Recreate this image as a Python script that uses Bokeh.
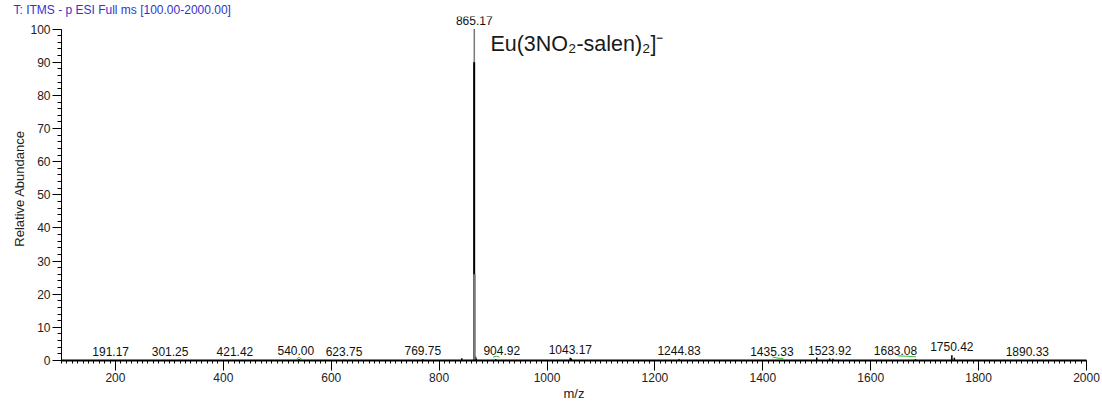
from bokeh.plotting import figure
from bokeh.models import Range1d, Label, SingleIntervalTicker, ColumnDataSource
from bokeh.core.properties import value
from bokeh.embed import file_html
from bokeh.resources import INLINE

# ---------------- data ----------------
title_text = "T: ITMS - p ESI Full ms [100.00-2000.00]"
compound_text = "Eu(3NO\u2082-salen)\u2082]\u207b"
x_label = "m/z"
y_label = "Relative Abundance"

# main isotope cluster (m/z, relative abundance)
main_mz = [864.95, 865.17, 865.40]
main_int = [90.0, 100.0, 26.0]
main_label = "865.17"

# labelled minor peaks
peak_mz = [191.17, 301.25, 421.42, 540.00, 623.75, 769.75, 904.92,
           1043.17, 1244.83, 1435.33, 1523.92, 1683.08, 1750.42, 1890.33]
peak_int = [0.15, 0.15, 0.15, 0.35, 0.25, 0.35, 0.35, 0.8, 0.35, 0.15, 0.6, 0.35, 1.6, 0.15]
peak_label = ["191.17", "301.25", "421.42", "540.00", "623.75", "769.75", "904.92",
              "1043.17", "1244.83", "1435.33", "1523.92", "1683.08", "1750.42", "1890.33"]
# label nudges (px) used by the instrument software to avoid overlaps
label_nudge = [0, 0, 0, -3, 0, 0, 6, 0, 0, -10, 0, -20, 0, 0]

# unlabelled small peaks / noise
noise_mz = [842.0, 867.5, 869.0, 1045.0, 1500.0, 1530.0, 1755.0]
noise_int = [0.7, 1.2, 0.6, 0.6, 0.9, 0.5, 0.8]

# green overlay trace (segments separated by NaN)
nan = float("nan")
green_mz = [536, 540, 545, nan, 900, 906, 912, nan, 1418, 1428, 1438, nan, 1650, 1665, 1684]
green_int = [0.5, 0.9, 0.5, nan, 1.0, 1.3, 1.0, nan, 1.0, 0.7, 0.6, nan, 1.4, 1.3, 1.1]

# ---------------- figure ----------------
font = "Liberation Sans"

p = figure(width=1102, height=403, output_backend="svg", toolbar_location=None,
           x_range=Range1d(100, 2000), y_range=Range1d(0, 103.8),
           min_border_left=61, min_border_right=16, min_border_top=0, min_border_bottom=43,
           title=title_text)
p.outline_line_color = None
p.xgrid.grid_line_color = None
p.ygrid.grid_line_color = None
p.background_fill_color = "white"
p.border_fill_color = "white"

p.title.text_font = font
p.title.text_font_size = "12px"
p.title.text_font_style = "normal"
p.title.text_color = "#3333cc"
p.title.align = "left"
p.title.standoff = 0
p.title.offset = -48
p.title.text_line_height = 0.7

xa = p.xaxis[0]
xa.ticker = SingleIntervalTicker(interval=200, num_minor_ticks=20)
xa.bounds = (100, 2000)
xa.axis_line_width = 2
xa.axis_line_color = "black"
xa.major_tick_out = 10
xa.major_tick_in = 0
xa.minor_tick_out = 3
xa.minor_tick_in = 0
xa.major_tick_line_color = "black"
xa.minor_tick_line_color = "black"
xa.major_label_text_font = font
xa.major_label_text_font_size = "12px"
xa.major_label_text_color = "#222222"
xa.major_label_standoff = 2
xa.axis_label = x_label
xa.axis_label_text_font = font
xa.axis_label_text_font_size = "13px"
xa.axis_label_text_font_style = "normal"
xa.axis_label_standoff = 1
xa.axis_label_text_color = "#222222"

ya = p.yaxis[0]
ya.ticker = SingleIntervalTicker(interval=10, num_minor_ticks=5)
ya.bounds = (0, 100)
ya.axis_line_color = "black"
ya.major_tick_out = 9
ya.major_tick_in = 0
ya.minor_tick_out = 4
ya.minor_tick_in = 0
ya.major_tick_line_color = "black"
ya.minor_tick_line_color = "black"
ya.major_label_text_font = font
ya.major_label_text_font_size = "12px"
ya.major_label_text_color = "#222222"
ya.major_label_standoff = 2
ya.axis_label = y_label
ya.axis_label_text_font = font
ya.axis_label_text_font_size = "13px"
ya.axis_label_text_font_style = "normal"
ya.axis_label_standoff = 0
ya.axis_label_text_color = "#222222"

# sticks
p.segment(x0=noise_mz, y0=[0] * len(noise_mz), x1=noise_mz, y1=noise_int,
          line_color="black", line_width=1.5)
p.segment(x0=peak_mz, y0=[0] * len(peak_mz), x1=peak_mz, y1=peak_int,
          line_color="black", line_width=1.5)
p.line(x=green_mz, y=green_int, line_color="#33bb33", line_width=1)

# main peak: gray top, black body, gray lower shoulder
p.segment(x0=[main_mz[1]], y0=[0], x1=[main_mz[1]], y1=[main_int[1]],
          line_color="#7a7a7a", line_width=1.5)
p.segment(x0=[main_mz[0]], y0=[0], x1=[main_mz[0]], y1=[main_int[0]],
          line_color="black", line_width=2)
p.segment(x0=[main_mz[2]], y0=[0], x1=[main_mz[2]], y1=[main_int[2]],
          line_color="#7a7a7a", line_width=2.5)

# peak labels
lab_src = ColumnDataSource(dict(x=peak_mz + [main_mz[1]],
                                y=peak_int + [main_int[1]],
                                t=peak_label + [main_label],
                                dx=label_nudge + [0]))
p.text(x="x", y="y", text="t", source=lab_src, x_offset="dx", text_align="center",
       text_baseline="middle", y_offset=-8.5, text_font=value(font),
       text_font_size="12px", text_color="#111111")

# compound annotation
p.add_layout(Label(x=895, y=95.5, text=compound_text, text_baseline="middle",
                   text_align="left", text_font=font, text_font_size="21.5px",
                   text_color="#1a1a1a"))

open("out.html", "w").write(file_html(p, INLINE))
